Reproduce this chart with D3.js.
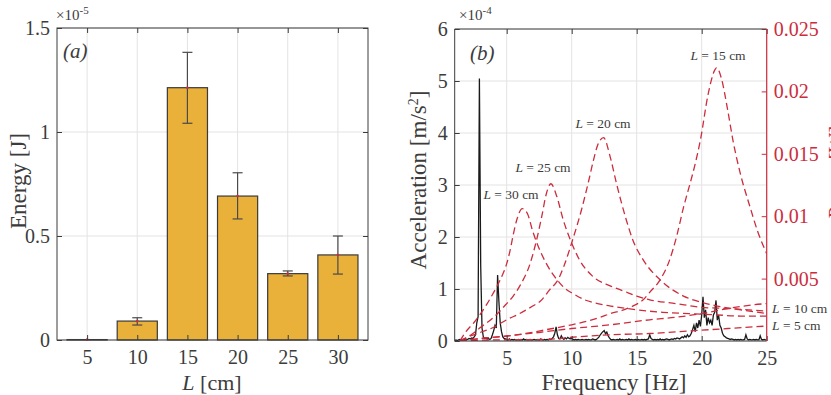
<!DOCTYPE html>
<html>
<head>
<meta charset="utf-8">
<script src="https://cdn.jsdelivr.net/npm/d3@7"></script>
<style>
  body { margin: 0; background: #fff; }
  svg { display: block; }
  text { font-family: 'Liberation Serif', 'DejaVu Serif', serif; }
</style>
</head>
<body>
<svg id="fig" width="831" height="395"></svg>
<script>
// ---- panel (a): energy per length ----
const lengths = [5, 10, 15, 20, 25, 30];
const energy = [0.002, 0.091, 1.213, 0.692, 0.319, 0.409];      // x1e-5 J
const energyLo = [0.001, 0.072, 1.042, 0.582, 0.308, 0.317];
const energyHi = [0.003, 0.107, 1.383, 0.804, 0.332, 0.500];
const energyTicks = [0, 0.5, 1, 1.5];

// ---- panel (b): acceleration spectrum (x1e-4 m/s^2), 0.1 Hz steps from 1 Hz ----
const specStart = 1.0, specStep = 0.1;
const accel = [
  0.01,0.02,0.01,0.02,0.03,0.02,0.03,0.02,0.04,0.03,   // 1.x
  0.03,0.05,0.04,0.06,0.05,0.08,0.12,0.35,0.47,5.05,   // 2.x
  1.45,0.25,0.08,0.05,0.06,0.04,0.05,0.03,0.05,0.12,   // 3.x
  0.20,0.30,0.25,1.27,0.76,0.35,0.18,0.08,0.05,0.04,   // 4.x
  0.03,0.02,0.04,0.02,0.03,0.02,0.03,0.02,0.02,0.03,   // 5.x
  0.02,0.03,0.02,0.04,0.02,0.03,0.02,0.02,0.03,0.02,   // 6.x
  0.02,0.03,0.02,0.02,0.03,0.02,0.04,0.03,0.02,0.03,   // 7.x
  0.02,0.03,0.02,0.04,0.03,0.05,0.08,0.15,0.27,0.12,   // 8.x
  0.05,0.04,0.10,0.05,0.03,0.06,0.04,0.07,0.05,0.04,   // 9.x
  0.05,0.03,0.02,0.03,0.02,0.03,0.02,0.02,0.03,0.02,   // 10.x
  0.02,0.03,0.02,0.03,0.02,0.02,0.04,0.03,0.02,0.03,   // 11.x
  0.05,0.08,0.12,0.15,0.18,0.20,0.14,0.17,0.10,0.06,   // 12.x
  0.03,0.02,0.03,0.02,0.02,0.03,0.02,0.04,0.02,0.03,   // 13.x
  0.02,0.02,0.03,0.02,0.04,0.02,0.03,0.02,0.02,0.03,   // 14.x
  0.02,0.03,0.02,0.02,0.03,0.02,0.03,0.02,0.03,0.04,   // 15.x
  0.12,0.05,0.03,0.02,0.03,0.02,0.03,0.02,0.04,0.02,   // 16.x
  0.03,0.02,0.03,0.04,0.03,0.02,0.03,0.04,0.03,0.05,   // 17.x
  0.04,0.06,0.05,0.04,0.06,0.08,0.06,0.10,0.07,0.12,   // 18.x
  0.08,0.10,0.15,0.22,0.30,0.18,0.35,0.25,0.40,0.28,   // 19.x
  0.50,0.85,0.45,0.60,0.30,0.45,0.35,0.40,0.30,0.50,   // 20.x
  0.55,0.78,0.40,0.50,0.30,0.25,0.15,0.10,0.08,0.06,   // 21.x
  0.05,0.04,0.03,0.04,0.03,0.02,0.03,0.02,0.03,0.02,   // 22.x
  0.03,0.02,0.02,0.03,0.12,0.04,0.02,0.03,0.02,0.02,   // 23.x
  0.03,0.02,0.03,0.02,0.02,0.10,0.03,0.02,0.03,0.02,   // 24.x
  0.02
];
const accelTicks = [0, 1, 2, 3, 4, 5, 6];
const freqTicks = [5, 10, 15, 20, 25];

// ---- panel (b): response curves (right axis), [Hz, value] ----
const respL30 = [[1.4,0],[1.9,0.0008],[2.5,0.0015],[3,0.0022],[3.5,0.0030],[4,0.0039],[4.5,0.0049],[5,0.0062],[5.25,0.0072],[5.5,0.0085],[5.8,0.0098],[6.2,0.0106],[6.6,0.0102],[7,0.0088],[7.5,0.0074],[8,0.0063],[8.8,0.0050],[9.5,0.0042],[10.1,0.0038],[11,0.0033],[12,0.0030],[13,0.0028],[15,0.0025],[17,0.0023],[19,0.0022],[21,0.0021],[23,0.0020],[25,0.0020]];
const respL25 = [[1.4,0],[2.4,0.0006],[3,0.0011],[4,0.0019],[5,0.0030],[5.5,0.0036],[6,0.0044],[6.8,0.0062],[7.3,0.0081],[7.7,0.0100],[8.05,0.0118],[8.4,0.0126],[8.85,0.0116],[9.35,0.0097],[9.9,0.0081],[10.6,0.0065],[11.6,0.0052],[13,0.0044],[14,0.0040],[15,0.0036],[16,0.0033],[18,0.0030],[20,0.0027],[22,0.0026],[25,0.0024]];
const respL20 = [[1.4,0],[2.2,0.0004],[3,0.0007],[4,0.0011],[4.5,0.0014],[5,0.0017],[6,0.0022],[7,0.0028],[7.6,0.0032],[8.3,0.0041],[9,0.0050],[9.4,0.0060],[10.1,0.0082],[10.75,0.0105],[11.3,0.0128],[11.7,0.0146],[12,0.0157],[12.45,0.0163],[12.95,0.0148],[13.45,0.0126],[14.2,0.0097],[14.7,0.0081],[15.5,0.0065],[16.8,0.0049],[18.6,0.0036],[20,0.0031],[21.2,0.0028],[23,0.0025],[25,0.0022]];
const respL15 = [[1.4,0],[3,0.0002],[5,0.0004],[7,0.0007],[8,0.0009],[10,0.0013],[12.2,0.0019],[13,0.0022],[14,0.0025],[14.7,0.0028],[15.5,0.0033],[16,0.0039],[16.8,0.0049],[17.5,0.0064],[18.1,0.0085],[18.6,0.0107],[19.1,0.0126],[19.5,0.0142],[19.9,0.0161],[20.5,0.0198],[21,0.0217],[21.15,0.0219],[21.5,0.0211],[22,0.0185],[22.4,0.0161],[23,0.0133],[23.7,0.0108],[24.3,0.0088],[25,0.0070]];
const respL10 = [[1.4,0],[3,0.0002],[5,0.0004],[7.6,0.0007],[10,0.0010],[13,0.0013],[16,0.0017],[18,0.0019],[20,0.0022],[22,0.0026],[24,0.0029],[25,0.0030]];
const respL5 = [[1.4,0],[5,0.0001],[7.6,0.0001],[10,0.0003],[13,0.0005],[16,0.0006],[19,0.0008],[22,0.0010],[25,0.0012]];
const respTicks = [0.005, 0.01, 0.015, 0.02, 0.025];

const ink = '#3c3c3c';
const gridCol = '#e3e3e3';
const red = '#cc2d3d';
const barCol = '#e9b03a';

const svg = d3.select('#fig');
svg.append('rect').attr('width', 831).attr('height', 395).attr('fill', '#fff');

function styleAxis(g, col) {
  g.select('.domain').remove();
  g.selectAll('line').attr('stroke', col).attr('stroke-width', 1);
  g.selectAll('text').attr('fill', col).style('font-size', '20px')
    .style('font-family', "'Liberation Serif', serif");
}

// ================= panel (a) =================
const ax = { left: 57, right: 368, top: 28, bottom: 340 };
const xA = d3.scaleLinear().domain([2, 33]).range([ax.left, ax.right]);
const yA = d3.scaleLinear().domain([0, 1.5]).range([ax.bottom, ax.top]);
const pa = svg.append('g');

// grid
pa.append('g').selectAll('line').data(energyTicks).join('line')
  .attr('x1', ax.left).attr('x2', ax.right)
  .attr('y1', d => yA(d)).attr('y2', d => yA(d))
  .attr('stroke', gridCol);
pa.append('g').selectAll('line').data(lengths).join('line')
  .attr('x1', d => xA(d)).attr('x2', d => xA(d))
  .attr('y1', ax.top).attr('y2', ax.bottom)
  .attr('stroke', gridCol);

// bars
pa.append('g').selectAll('rect').data(lengths).join('rect')
  .attr('x', d => xA(d - 2))
  .attr('width', d => xA(d + 2) - xA(d - 2))
  .attr('y', (d, i) => yA(energy[i]))
  .attr('height', (d, i) => ax.bottom - yA(energy[i]))
  .attr('fill', barCol)
  .attr('stroke', '#3a3a3a')
  .attr('stroke-width', 1.2);

// error bars
const eb = pa.append('g').attr('stroke', '#4a4a4a').attr('stroke-width', 1.2);
lengths.forEach((L, i) => {
  if (L === 5) return;
  const cx = xA(L);
  eb.append('line').attr('x1', cx).attr('x2', cx).attr('y1', yA(energyLo[i])).attr('y2', yA(energyHi[i]));
  eb.append('line').attr('x1', cx - 5).attr('x2', cx + 5).attr('y1', yA(energyLo[i])).attr('y2', yA(energyLo[i]));
  eb.append('line').attr('x1', cx - 5).attr('x2', cx + 5).attr('y1', yA(energyHi[i])).attr('y2', yA(energyHi[i]));
});
pa.append('g').selectAll('circle').data(lengths).join('circle')
  .attr('cx', d => xA(d)).attr('cy', (d, i) => yA(energy[i]))
  .attr('r', 1.3).attr('fill', red);

// axes
styleAxis(pa.append('g').attr('transform', `translate(${ax.left},0)`)
  .call(d3.axisLeft(yA).tickValues(energyTicks).tickSize(-5).tickPadding(7).tickFormat(d3.format('~g'))), ink);
styleAxis(pa.append('g').attr('transform', `translate(${ax.right},0)`)
  .call(d3.axisRight(yA).tickValues(energyTicks).tickSize(-5).tickFormat('')), ink);
styleAxis(pa.append('g').attr('transform', `translate(0,${ax.bottom})`)
  .call(d3.axisBottom(xA).tickValues(lengths).tickSize(-5).tickPadding(10)), ink);
styleAxis(pa.append('g').attr('transform', `translate(0,${ax.top})`)
  .call(d3.axisTop(xA).tickValues(lengths).tickSize(-5).tickFormat('')), ink);
pa.append('rect').attr('x', ax.left).attr('y', ax.top)
  .attr('width', ax.right - ax.left).attr('height', ax.bottom - ax.top)
  .attr('fill', 'none').attr('stroke', ink).attr('stroke-width', 1);

// labels
const expA = pa.append('text').attr('x', 56).attr('y', 20).attr('fill', ink).style('font-size', '15px');
expA.append('tspan').text('×10');
expA.append('tspan').attr('dy', -6).style('font-size', '11px').text('-5');
pa.append('text').attr('x', 63).attr('y', 58).attr('fill', ink)
  .style('font-size', '21px').style('font-style', 'italic').text('(a)');
pa.append('text').attr('transform', 'translate(26,181) rotate(-90)')
  .attr('text-anchor', 'middle').attr('fill', ink).style('font-size', '23px').text('Energy [J]');
const xlabA = pa.append('text').attr('x', 212).attr('y', 390).attr('text-anchor', 'middle')
  .attr('fill', ink).style('font-size', '22px');
xlabA.append('tspan').style('font-style', 'italic').text('L');
xlabA.append('tspan').text(' [cm]');

// ================= panel (b) =================
const bx = { left: 454.7, right: 766.7, top: 29, bottom: 341 };
const xB = d3.scaleLinear().domain([1, 25]).range([bx.left, bx.right]);
const yB = d3.scaleLinear().domain([0, 6]).range([bx.bottom, bx.top]);
const yR = d3.scaleLinear().domain([0, 0.025]).range([bx.bottom, bx.top]);
const pb = svg.append('g');

pb.append('clipPath').attr('id', 'clipB').append('rect')
  .attr('x', bx.left).attr('y', bx.top).attr('width', bx.right - bx.left).attr('height', bx.bottom - bx.top);

pb.append('g').selectAll('line').data(accelTicks).join('line')
  .attr('x1', bx.left).attr('x2', bx.right)
  .attr('y1', d => yB(d)).attr('y2', d => yB(d)).attr('stroke', gridCol);
pb.append('g').selectAll('line').data(freqTicks).join('line')
  .attr('x1', d => xB(d)).attr('x2', d => xB(d))
  .attr('y1', bx.top).attr('y2', bx.bottom).attr('stroke', gridCol);

// spectrum
const specLine = d3.line()
  .x((d, i) => xB(specStart + i * specStep))
  .y(d => yB(d));
pb.append('path').datum(accel)
  .attr('clip-path', 'url(#clipB)')
  .attr('d', specLine)
  .attr('fill', 'none').attr('stroke', '#1a1a1a').attr('stroke-width', 1.3);

// response curves
const respLine = d3.line().x(d => xB(d[0])).y(d => yR(d[1])).curve(d3.curveMonotoneX);
const responses = [respL30, respL25, respL20, respL15, respL10, respL5];
pb.append('g').attr('clip-path', 'url(#clipB)').selectAll('path').data(responses).join('path')
  .attr('d', respLine)
  .attr('fill', 'none').attr('stroke', red).attr('stroke-width', 1.3)
  .attr('stroke-dasharray', '7,4');

// axes
styleAxis(pb.append('g').attr('transform', `translate(${bx.left},0)`)
  .call(d3.axisLeft(yB).tickValues(accelTicks).tickSize(-5).tickPadding(7).tickFormat(d3.format('~g'))), ink);
styleAxis(pb.append('g').attr('transform', `translate(0,${bx.bottom})`)
  .call(d3.axisBottom(xB).tickValues(freqTicks).tickSize(-5).tickPadding(10)), ink);
styleAxis(pb.append('g').attr('transform', `translate(0,${bx.top})`)
  .call(d3.axisTop(xB).tickValues(freqTicks).tickSize(-5).tickFormat('')), ink);
styleAxis(pb.append('g').attr('transform', `translate(${bx.right},0)`)
  .call(d3.axisRight(yR).tickValues(respTicks).tickSize(-5).tickPadding(7).tickFormat(d3.format('~g'))), red);
pb.append('line').attr('x1', bx.left).attr('x2', bx.left).attr('y1', bx.top).attr('y2', bx.bottom).attr('stroke', ink);
pb.append('line').attr('x1', bx.left).attr('x2', bx.right).attr('y1', bx.top).attr('y2', bx.top).attr('stroke', ink);
pb.append('line').attr('x1', bx.left).attr('x2', bx.right).attr('y1', bx.bottom).attr('y2', bx.bottom).attr('stroke', ink);
pb.append('line').attr('x1', bx.right).attr('x2', bx.right).attr('y1', bx.top).attr('y2', bx.bottom).attr('stroke', red).attr('stroke-width', 1.2);

// labels
const expB = pb.append('text').attr('x', 459).attr('y', 20).attr('fill', ink).style('font-size', '15px');
expB.append('tspan').text('×10');
expB.append('tspan').attr('dy', -6).style('font-size', '11px').text('-4');
pb.append('text').attr('x', 470).attr('y', 60).attr('fill', ink)
  .style('font-size', '21px').style('font-style', 'italic').text('(b)');
const ylabB = pb.append('text').attr('transform', 'translate(426,180) rotate(-90)')
  .attr('text-anchor', 'middle').attr('fill', ink).style('font-size', '23px');
ylabB.append('tspan').text('Acceleration [m/s');
ylabB.append('tspan').attr('dy', -8).style('font-size', '14px').text('2');
ylabB.append('tspan').attr('dy', 8).text(']');
pb.append('text').attr('x', 614).attr('y', 390).attr('text-anchor', 'middle')
  .attr('fill', ink).style('font-size', '23px').text('Frequency [Hz]');
// right-hand axis title, cut by the figure edge as in the original
pb.append('text').attr('transform', 'translate(843,172) rotate(-90)')
  .attr('text-anchor', 'middle').attr('fill', red).style('font-size', '21px').text('Power [W]');

// curve annotations
const notes = [
  { t: '15 cm', x: 718, y: 60, a: 'middle' },
  { t: '20 cm', x: 603, y: 128, a: 'middle' },
  { t: '25 cm', x: 543, y: 172, a: 'middle' },
  { t: '30 cm', x: 511, y: 199, a: 'middle' },
  { t: '10 cm', x: 772, y: 313, a: 'start' },
  { t: '5 cm', x: 772, y: 330, a: 'start' }
];
notes.forEach(n => {
  const t = pb.append('text').attr('x', n.x).attr('y', n.y).attr('text-anchor', n.a)
    .attr('fill', ink).style('font-size', '13.5px');
  t.append('tspan').style('font-style', 'italic').text('L');
  t.append('tspan').text(' = ' + n.t);
});
</script>
</body>
</html>
